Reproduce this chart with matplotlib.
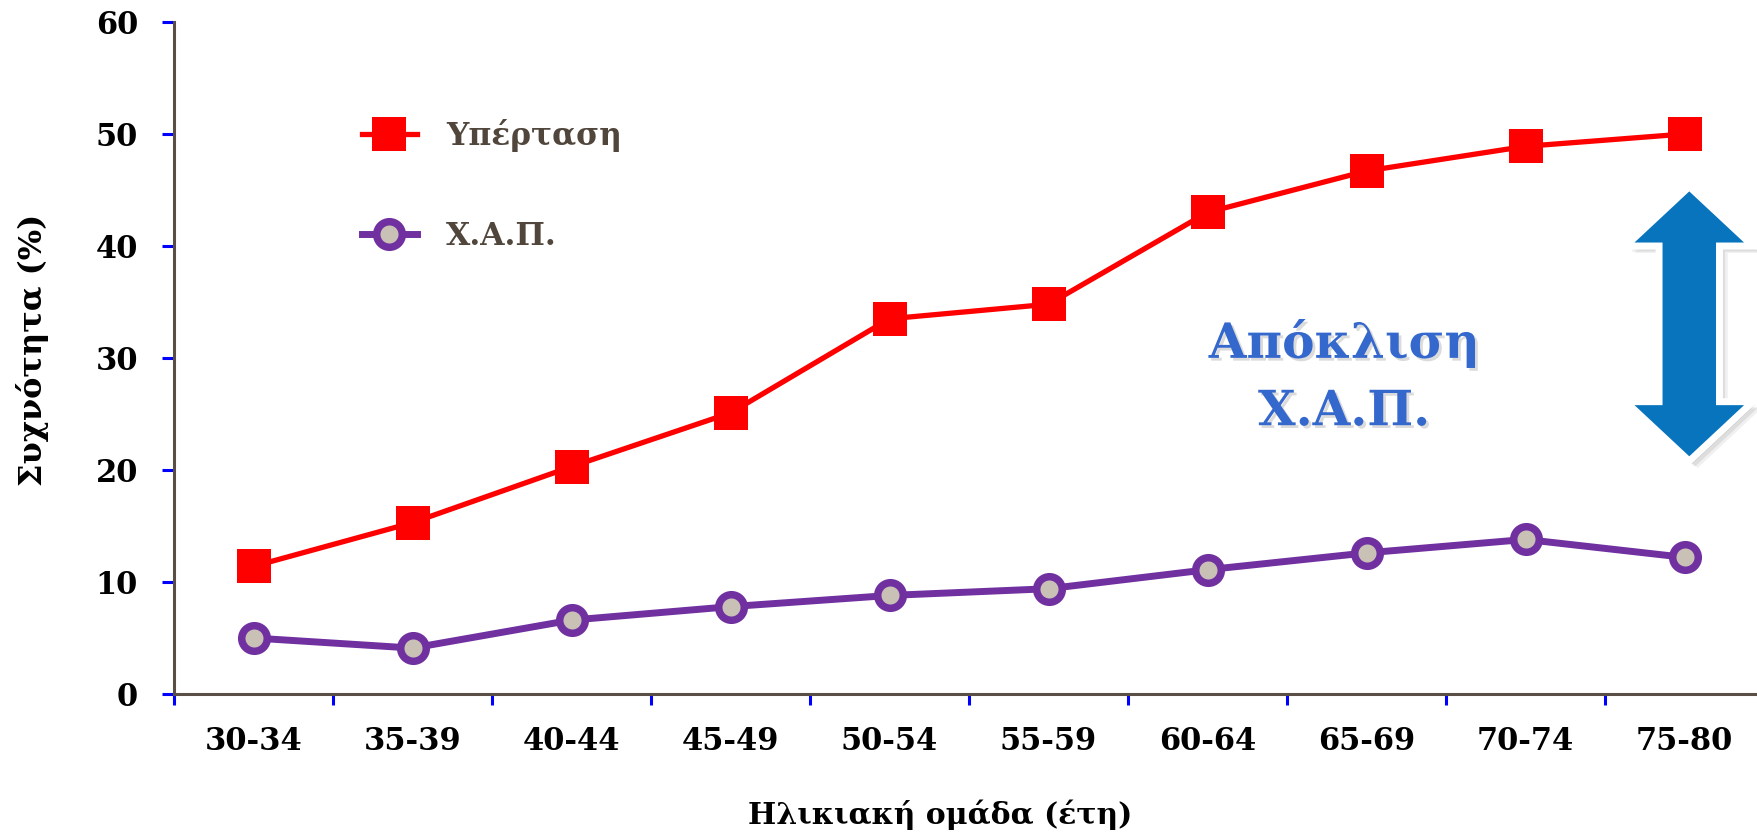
import matplotlib
matplotlib.use("Agg")
import matplotlib.pyplot as plt
import matplotlib.patheffects as pe
from matplotlib.patches import Polygon
import numpy as np

# Age groups and prevalence (%) per condition
age_groups = ["30-34", "35-39", "40-44", "45-49", "50-54",
              "55-59", "60-64", "65-69", "70-74", "75-80"]
hypertension = [11.4, 15.3, 20.3, 25.1, 33.5, 34.8, 43.0, 46.7, 48.9, 50.0]
copd = [5.0, 4.1, 6.6, 7.8, 8.8, 9.4, 11.1, 12.6, 13.8, 12.2]
y_ticks = [0, 10, 20, 30, 40, 50, 60]

series_labels = ["Υπέρταση", "Χ.Α.Π."]
x_label = "Ηλικιακή ομάδα (έτη)"
y_label = "Συχνότητα (%)"
note_text = "Απόκλιση\nΧ.Α.Π."

SERIF = ["DejaVu Serif"]
W, H = 1757, 832

fig = plt.figure(figsize=(W / 100, H / 100), dpi=100)
ax = fig.add_axes([174 / W, 138 / H, 1583 / W, 672 / H])

x = np.arange(len(age_groups))
ax.plot(x, hypertension, color="#FF0000", lw=3.8, marker="s", ms=25,
        mfc="#FF0000", mec="#FF0000", mew=0, zorder=3,
        label=series_labels[0])
ax.plot(x, copd, color="#7030A0", lw=5, marker="o", ms=18.4, mew=5.4,
        mfc="#C9C0B6", mec="#7030A0", zorder=3, label=series_labels[1])

ax.set_xlim(-0.5, -0.5 + 1583 / 159)
ax.set_ylim(0, 60)

# spines
for side in ("top", "right"):
    ax.spines[side].set_visible(False)
for side in ("left", "bottom"):
    ax.spines[side].set_color("#594F46")
    ax.spines[side].set_linewidth(2.2)

# y ticks
ax.set_yticks(y_ticks)
ax.set_yticklabels([str(v) for v in y_ticks], fontfamily=SERIF,
                   fontweight="bold", fontsize=22)
ax.tick_params(axis="y", direction="out", length=9, width=2.2,
               color="#0000FF", pad=17)

# x ticks: separators between categories, labels at centers
ax.set_xticks(np.arange(-0.5, len(age_groups) - 0.5, 1.0))
ax.set_xticklabels([])
ax.set_xticks(x, minor=True)
ax.set_xticklabels(age_groups, minor=True, fontfamily=SERIF,
                   fontweight="bold", fontsize=22)
ax.tick_params(axis="x", which="major", direction="out", length=8,
               width=2.2, color="#0000FF")
ax.tick_params(axis="x", which="minor", length=0, pad=23)

fig.text(940 / W, 1 - 815 / H, x_label, ha="center", va="center",
         fontfamily=SERIF, fontweight="bold", fontsize=21.5)
fig.text(33 / W, 1 - 350 / H, y_label, ha="center", va="center",
         rotation=90, fontfamily=SERIF, fontweight="bold", fontsize=23)

leg = ax.legend(loc="upper left", bbox_to_anchor=(362 / W, 1 - 119 / H),
                bbox_transform=fig.transFigure, frameon=False,
                borderpad=0, borderaxespad=0, handlelength=1.75,
                handletextpad=0.95, labelspacing=2.2,
                prop={"family": SERIF, "weight": "bold", "size": 22.5})
for t in leg.get_texts():
    t.set_color("#51463C")

# annotation text
ax.text(6.86, 28.3, note_text, ha="center", va="center",
        color="#3568CC", fontfamily=SERIF, fontweight="bold", fontsize=35,
        linespacing=1.55,
        path_effects=[pe.withSimplePatchShadow(offset=(2, -2),
                                               shadow_rgbFace="#888888",
                                               alpha=0.3)])

# double-headed arrow centred on the last age group
cx, top, bottom = 9.03, 45.3, 20.8
shaft_hw, head_hw, head_len = 0.19, 0.40, 5.3
verts = [
    (cx, top),
    (cx + head_hw, top - head_len),
    (cx + shaft_hw, top - head_len),
    (cx + shaft_hw, bottom + head_len),
    (cx + head_hw, bottom + head_len),
    (cx, bottom),
    (cx - head_hw, bottom + head_len),
    (cx - shaft_hw, bottom + head_len),
    (cx - shaft_hw, top - head_len),
    (cx - head_hw, top - head_len),
]
arrow = Polygon(verts, closed=True, facecolor="#0774BD", edgecolor="white",
                linewidth=5, joinstyle="miter", zorder=4, clip_on=False)
arrow.set_path_effects([
    pe.SimplePatchShadow(offset=(6, -5), shadow_rgbFace="#000000", alpha=0.06),
    pe.SimplePatchShadow(offset=(4, -4), shadow_rgbFace="#000000", alpha=0.08),
    pe.SimplePatchShadow(offset=(2, -2), shadow_rgbFace="#000000", alpha=0.10),
    pe.Normal()])
ax.add_patch(arrow)

fig.savefig("out.png", dpi=100)
